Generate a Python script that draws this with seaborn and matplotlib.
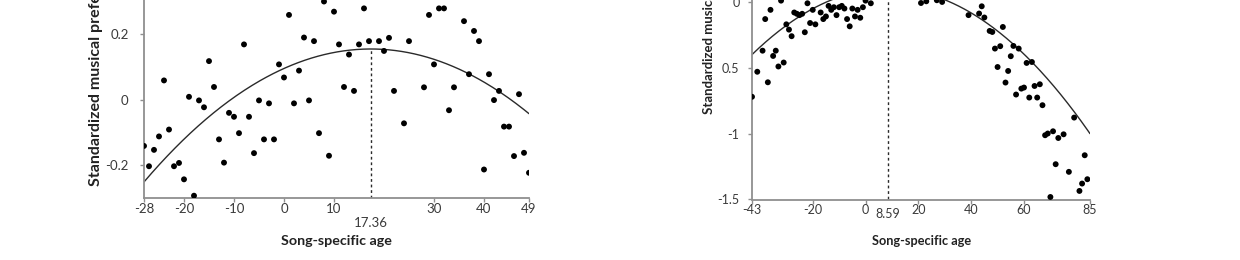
import numpy as np
import pandas as pd
import matplotlib
matplotlib.use("Agg")
import matplotlib.pyplot as plt
import seaborn as sns

# ---------------- data ----------------
left_age = [-28, -27, -26, -25, -24, -23, -22, -21, -20, -19, -18, -17, -16, -15,
            -14, -13, -12, -11, -10, -9, -8, -7, -6, -5, -4, -3, -2, -1, 0, 1,
            2, 3, 4, 5, 6, 7, 8, 9, 10, 11, 12, 13, 14, 15, 16, 17, 19, 20, 21,
            22, 24, 25, 28, 29, 30, 31, 32, 33, 34, 36, 37, 38, 39, 40, 41, 42,
            43, 44, 45, 46, 47, 48, 49]
left_pref = [-0.141, -0.203, -0.153, -0.112, 0.059, -0.091, -0.203, -0.193, -0.243,
             0.009, -0.293, -0.002, -0.023, 0.118, 0.039, -0.121, -0.192, -0.040,
             -0.052, -0.102, 0.169, -0.052, -0.163, -0.002, -0.121, -0.011, -0.121,
             0.108, 0.068, 0.259, -0.011, 0.089, 0.190, -0.002, 0.179, -0.102, 0.300,
             -0.171, 0.269, 0.169, 0.039, 0.138, 0.027, 0.169, 0.279, 0.179, 0.179,
             0.149, 0.189, 0.027, -0.072, 0.179, 0.038, 0.259, 0.108, 0.279, 0.279,
             -0.032, 0.038, 0.240, 0.078, 0.210, 0.179, -0.213, 0.078, -0.001, 0.027,
             -0.082, -0.082, -0.172, 0.017, -0.162, -0.223]

right_age = [-43, -41, -39, -38, -37, -36, -35, -34, -33, -32, -31, -30, -29, -28,
             -27, -26, -25, -24, -23, -22, -21, -20, -19, -17, -16, -15, -14, -13,
             -12, -11, -10, -9, -8, -7, -6, -5, -4, -3, -2, -1, 0, 2,
             21, 23, 27, 29, 39, 43, 44, 45, 47, 48, 49, 50, 51, 52, 53, 54, 55,
             56, 57, 58, 59, 60, 61, 62, 63, 64, 65, 66, 67, 68, 69, 70, 71, 72,
             73, 75, 77, 79, 81, 82, 83, 84]
right_pref = [-0.72, -0.53, -0.37, -0.13, -0.61, -0.06, -0.41, -0.37, -0.49, 0.01,
              -0.46, -0.17, -0.21, -0.26, -0.08, -0.09, -0.10, -0.09, -0.23, -0.01,
              -0.16, -0.06, -0.17, -0.08, -0.13, -0.11, -0.03, -0.06, -0.04, -0.10,
              -0.04, -0.03, -0.05, -0.13, -0.185, -0.05, -0.11, -0.06, -0.12, -0.04,
              0.01, -0.01,
              -0.008, 0.005, 0.013, 0.0, -0.10, -0.088, -0.033, -0.118, -0.22, -0.228,
              -0.354, -0.494, -0.336, -0.19, -0.612, -0.524, -0.412, -0.334, -0.703,
              -0.354, -0.658, -0.65, -0.463, -0.726, -0.456, -0.638, -0.726, -0.625,
              -0.784, -1.012, -0.999, -1.481, -0.982, -1.232, -1.033, -1.005, -1.29,
              -0.878, -1.435, -1.379, -1.164, -1.346]

# quadratic fits (vertex form): value = peak_val + curvature * (age - peak_age)^2
left_peak_age, left_peak_val, left_curvature = 17.36, 0.155, -1.973e-4
right_peak_age, right_peak_val, right_curvature = 8.59, 0.103, -1.889e-4

left_xlim = (-28, 49)
left_ylim = (-0.3, 0.5)
left_xticks = [-28, -20, -10, 0, 10, 30, 40, 49]
left_yticks = [-0.2, 0, 0.2]
left_yticklabels = ["-0.2", "0", "0.2"]

right_xlim = (-43, 85)
right_ylim = (-1.5, 1.0)
right_xticks = [-43, -20, 0, 20, 40, 60, 85]
right_yticks = [-1.5, -1, -0.5, 0]
right_yticklabels = ["-1.5", "-1", "0.5", "0"]

ylabel_text = "Standardized musical preference"
xlabel_text = "Song-specific age"

# ---------------- styling ----------------
sns.set_theme(style="white")
plt.rcParams['font.family'] = ['Lato', 'DejaVu Sans']

W, H = 1240, 260
fig = plt.figure(figsize=(W / 100, H / 100), dpi=100)

AX_COL = "#8f8f8f"
TXT_COL = "#3a3a3a"


def add_px_axes(x0, x1, y_bottom, ylim, px_per_unit):
    y_top = y_bottom - (ylim[1] - ylim[0]) * px_per_unit
    return fig.add_axes([x0 / W, (H - y_bottom) / H, (x1 - x0) / W, (y_bottom - y_top) / H])


def draw_panel(ax, ages, prefs, peak_age, peak_val, curv, xlim, ylim, xticks,
               yticks, yticklabels, tick_fs, label_fs_x, label_fs_y, peak_pad,
               xlabel_y, ylabel_xy, xlabel_x, ypad):
    df = pd.DataFrame({"age": ages, "pref": prefs})
    sns.scatterplot(data=df, x="age", y="pref", ax=ax, color="black", s=18,
                    linewidth=0, edgecolor="none", zorder=3)
    cx = np.linspace(xlim[0], xlim[1], 300)
    cy = peak_val + curv * (cx - peak_age) ** 2
    sns.lineplot(x=cx, y=cy, ax=ax, color="#2a2a2a", lw=1.0, zorder=2)
    ax.vlines(peak_age, ylim[0], peak_val, colors="#2a2a2a", lw=1.0,
              linestyles=(0, (2.0, 2.0)), zorder=2)
    ax.set_xlim(*xlim)
    ax.set_ylim(*ylim)
    ax.set_xticks(xticks, labels=[str(t) for t in xticks])
    ax.set_xticks([peak_age], labels=[f"{peak_age:.2f}"], minor=True)
    ax.set_yticks(yticks, labels=yticklabels)
    for s in ["top", "right"]:
        ax.spines[s].set_visible(False)
    for s in ["left", "bottom"]:
        ax.spines[s].set_color(AX_COL)
        ax.spines[s].set_linewidth(1.3)
    ax.tick_params(axis="x", which="major", direction="out", length=3,
                   width=1, color=AX_COL, labelsize=tick_fs, labelcolor=TXT_COL,
                   pad=0.5, bottom=True)
    ax.tick_params(axis="y", which="major", direction="out", length=3,
                   width=1, color=AX_COL, labelsize=tick_fs, labelcolor=TXT_COL,
                   pad=ypad, left=True)
    ax.tick_params(axis="x", which="minor", length=0, labelsize=tick_fs,
                   labelcolor=TXT_COL, pad=peak_pad, bottom=True)
    ax.set_xlabel(xlabel_text, fontsize=label_fs_x, fontweight="bold",
                  color="#222222", va="center")
    ax.xaxis.set_label_coords(xlabel_x / W, (H - xlabel_y) / H, transform=fig.transFigure)
    ax.set_ylabel(ylabel_text, fontsize=label_fs_y, fontweight="bold",
                  color="#222222", ha="left", va="center")
    ax.yaxis.set_label_coords(ylabel_xy[0] / W, (H - ylabel_xy[1]) / H,
                              transform=fig.transFigure)
    ax.grid(False)
    ax.set_facecolor("white")


axL = add_px_axes(144, 529, 198, left_ylim, 327.5)
draw_panel(axL, left_age, left_pref, left_peak_age, left_peak_val, left_curvature,
           left_xlim, left_ylim, left_xticks, left_yticks, left_yticklabels,
           tick_fs=9.5, label_fs_x=10.3, label_fs_y=11.5, peak_pad=14,
           xlabel_y=241, ylabel_xy=(96, 186), xlabel_x=336, ypad=8)

axR = add_px_axes(752, 1090, 199.5, right_ylim, 131.7)
draw_panel(axR, right_age, right_pref, right_peak_age, right_peak_val, right_curvature,
           right_xlim, right_ylim, right_xticks, right_yticks, right_yticklabels,
           tick_fs=9, label_fs_x=9.2, label_fs_y=9.5, peak_pad=6,
           xlabel_y=241, ylabel_xy=(709, 114), xlabel_x=922, ypad=6)

fig.savefig("out.png", dpi=100, facecolor="white")
